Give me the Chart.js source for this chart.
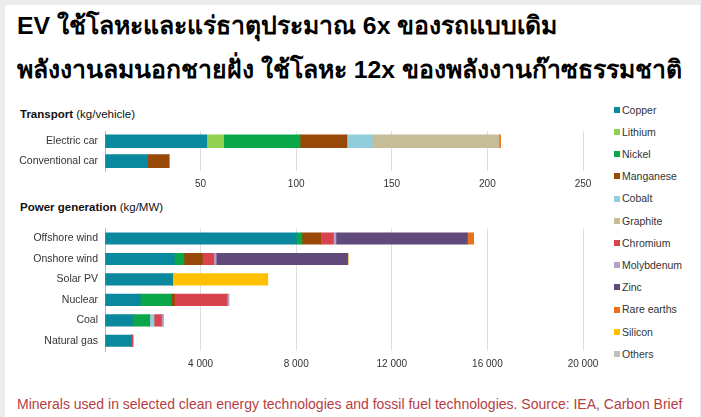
<!DOCTYPE html>
<html><head><meta charset="utf-8">
<script src="https://cdn.jsdelivr.net/npm/chart.js@4/dist/chart.umd.min.js"></script>
<style>
html,body{margin:0;padding:0;}
body{width:701px;height:417px;background:#ececec;position:relative;overflow:hidden;font-family:"Liberation Sans",Arial,sans-serif;}
#panel{position:absolute;left:5px;top:5px;width:695px;height:412px;background:#fff;}
.t{position:absolute;left:17px;font-size:24.8px;color:#000;white-space:nowrap;line-height:1;font-weight:bold;}
.sec{position:absolute;left:20px;font-size:11.5px;color:#111;white-space:nowrap;}
.sec b{font-weight:bold;}
#legend{position:absolute;left:614px;top:0;}
.li{position:absolute;left:0;white-space:nowrap;font-size:10.5px;color:#333;}
.li span.sw{display:inline-block;width:6px;height:6px;margin-right:2px;vertical-align:middle;position:relative;top:-1px;}
#cap{position:absolute;left:17px;top:396px;font-size:14px;color:#b5403f;white-space:nowrap;}
canvas{position:absolute;left:0;}
</style></head><body>
<div id="panel"></div>
<div class="t" id="t1" style="top:14px;">EV ใช้โลหะและแร่ธาตุประมาณ 6x ของรถแบบเดิม</div>
<div class="t" id="t2" style="top:58px;">พลังงานลมนอกชายฝั่ง ใช้โลหะ 12x ของพลังงานก๊าซธรรมชาติ</div>
<div class="sec" style="top:108px;"><b>Transport</b> (kg/vehicle)</div>
<div class="sec" style="top:201px;"><b>Power generation</b> (kg/MW)</div>
<canvas id="c1" width="610" height="79" style="top:118px"></canvas>
<canvas id="c2" width="610" height="162" style="top:215px"></canvas>
<div id="legend"></div>
<div id="cap">Minerals used in selected clean energy technologies and fossil fuel technologies. Source: IEA, Carbon Brief</div>
<script>
// ---- data ----
const minerals = ["Copper","Lithium","Nickel","Manganese","Cobalt","Graphite","Chromium","Molybdenum","Zinc","Rare earths","Silicon","Others"];
const mineralColors = ["#0a889e","#92d050","#0aa64a","#984807","#92cddc","#c4bd97","#d9434e","#b3a2c7","#604a7b","#e8711a","#ffc000","#bfbfbf"];

const transportCats = ["Electric car","Conventional car"];
const tCopper    = [53.2, 22.3];
const tLithium   = [8.9, 0];
const tNickel    = [39.9, 0];
const tManganese = [24.5, 11.2];
const tCobalt    = [13.3, 0];
const tGraphite  = [66.3, 0];
const tRareEarths= [0.8, 0];
const transportTicks = [50,100,150,200,250];

const powerCats = ["Offshore wind","Onshore wind","Solar PV","Nuclear","Coal","Natural gas"];
const pCopper     = [8000, 2900, 2822, 1473, 1150, 1100];
const pNickel     = [240, 404, 0, 1297, 721, 16];
const pManganese  = [790, 780, 0, 148, 0, 0];
const pCobalt     = [0, 0, 0, 0, 180, 0];
const pChromium   = [525, 470, 0, 2190, 308, 48];
const pMolybdenum = [109, 99, 0, 70, 66, 0];
const pZinc       = [5500, 5500, 0, 0, 0, 0];
const pRareEarths = [260, 14, 0, 0, 0, 0];
const pSilicon    = [0, 0, 3990, 0, 0, 0];
const powerTicks = [4000,8000,12000,16000,20000];

// ---- build ----
function col(name){return mineralColors[minerals.indexOf(name)];}
function ds(name,data,th){return {label:name,data:data,backgroundColor:col(name),borderWidth:0,barThickness:th,stack:"s"};}
function fmt(v){return v===0?"":String(v).replace(/\B(?=(\d{3})+(?!\d))/g," ");}

function opts(max,step,padTop){
  return {
    responsive:false,animation:false,indexAxis:"y",
    layout:{padding:{top:padTop,left:0,right:27,bottom:0}},
    plugins:{legend:{display:false},tooltip:{enabled:false}},
    scales:{
      x:{stacked:true,min:0,max:max,
        ticks:{stepSize:step,padding:7,color:"#333",font:{family:"Liberation Sans",size:10},callback:(v)=>fmt(v),maxRotation:0},
        grid:{drawTicks:false,color:(c)=>c.tick&&c.tick.value===0?"rgba(0,0,0,0)":"#dedede",lineWidth:1},
        border:{display:false}},
      y:{stacked:true,
        ticks:{padding:7,color:"#333",font:{family:"Liberation Sans",size:10.5}},
        grid:{display:false,drawTicks:false},
        border:{display:true,color:"#b8b8b8",width:1},
        afterFit:(s)=>{s.width=105;}}
    }
  };
}

new Chart(document.getElementById("c1"),{type:"bar",
  data:{labels:transportCats,datasets:[
    ds("Copper",tCopper,13),ds("Lithium",tLithium,13),ds("Nickel",tNickel,13),
    ds("Manganese",tManganese,13),ds("Cobalt",tCobalt,13),ds("Graphite",tGraphite,13),
    ds("Rare earths",tRareEarths,13)]},
  options:opts(transportTicks[transportTicks.length-1],transportTicks[0],6.5)});

new Chart(document.getElementById("c2"),{type:"bar",
  data:{labels:powerCats,datasets:[
    ds("Copper",pCopper,11.5),ds("Nickel",pNickel,11.5),ds("Manganese",pManganese,11.5),
    ds("Cobalt",pCobalt,11.5),ds("Chromium",pChromium,11.5),ds("Molybdenum",pMolybdenum,11.5),
    ds("Zinc",pZinc,11.5),ds("Rare earths",pRareEarths,11.5),ds("Silicon",pSilicon,11.5)]},
  options:opts(powerTicks[powerTicks.length-1],powerTicks[0],7)});

const lg=document.getElementById("legend");
minerals.forEach((m,i)=>{
  const d=document.createElement("div");d.className="li";
  d.style.top=(103.5+i*22.2)+"px";
  d.innerHTML='<span class="sw" style="background:'+mineralColors[i]+'"></span>'+m;
  lg.appendChild(d);
});
</script>
</body></html>
